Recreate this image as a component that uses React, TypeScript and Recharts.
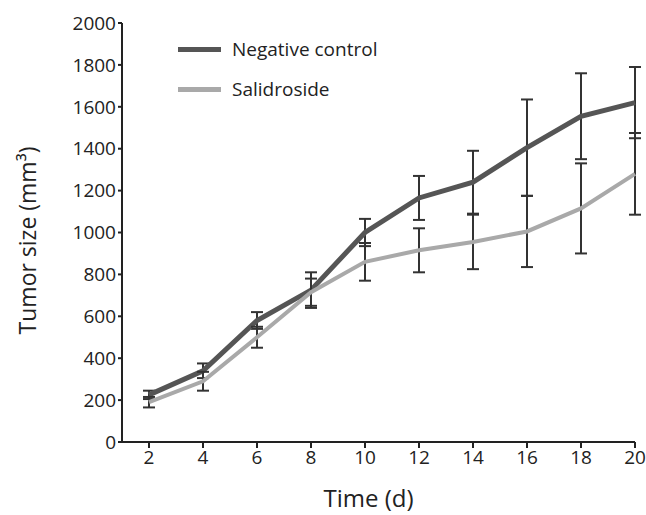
import React from "react";
import { LineChart, Line, XAxis, YAxis, ErrorBar, Legend, Label } from "recharts";

const days = [2, 4, 6, 8, 10, 12, 14, 16, 18, 20];
const negativeControl = [225, 340, 580, 725, 1000, 1165, 1240, 1405, 1555, 1620];
const negativeControlErr = [20, 35, 40, 85, 65, 105, 150, 230, 205, 170];
const salidroside = [190, 290, 500, 715, 860, 915, 955, 1005, 1115, 1280];
const salidrosideErr = [25, 45, 50, 65, 90, 105, 130, 170, 215, 195];
const xTicks = [2, 4, 6, 8, 10, 12, 14, 16, 18, 20];
const yTicks = [0, 200, 400, 600, 800, 1000, 1200, 1400, 1600, 1800, 2000];

const data = days.map((d, i) => ({
  day: d,
  nc: negativeControl[i],
  ncErr: negativeControlErr[i],
  sal: salidroside[i],
  salErr: salidrosideErr[i],
}));

const FONT = "'Open Sans', sans-serif";
const INK = "#222";
const NC_COLOR = "#555555";
const SAL_COLOR = "#a9a9a9";

function LegendBox({ payload }: { payload?: Array<{ value: string; color: string }> }) {
  if (!payload) return null;
  return (
    <div style={{ fontFamily: FONT, fontSize: 19, color: INK }}>
      {payload.map((p) => (
        <div key={p.value} style={{ display: "flex", alignItems: "center", height: 40 }}>
          <span style={{ display: "inline-block", width: 43, height: 5, background: p.color, marginRight: 11 }} />
          <span>{p.value}</span>
        </div>
      ))}
    </div>
  );
}

function YTitle({ viewBox }: any) {
  const cx = viewBox.x + 17;
  const cy = viewBox.y + viewBox.height / 2 + 8;
  return (
    <text
      x={cx}
      y={cy}
      transform={`rotate(-90 ${cx} ${cy})`}
      textAnchor="middle"
      dominantBaseline="central"
      fontFamily={FONT}
      fontSize={23}
      fill={INK}
    >
      Tumor size (mm³)
    </text>
  );
}

function XTitle({ viewBox }: any) {
  const cx = viewBox.x + viewBox.width / 2 - 10;
  const y = viewBox.y + viewBox.height + 25;
  return (
    <text x={cx} y={y} textAnchor="middle" fontFamily={FONT} fontSize={24} fill={INK}>
      Time (d)
    </text>
  );
}

export default function App() {
  return (
    <div style={{ position: "absolute", left: 0, top: 0, width: 646, height: 515, background: "#fff" }}>
      <LineChart width={646} height={515} data={data} margin={{ top: 23, right: 11, bottom: 33, left: 10 }}>
        <XAxis
          dataKey="day"
          type="number"
          domain={[1, 20]}
          ticks={xTicks}
          tickSize={6}
          tickMargin={3}
          height={40}
          stroke={INK}
          strokeWidth={2}
          tick={{ fill: INK, fontSize: 19, fontFamily: FONT }}
        >
          <Label content={<XTitle />} />
        </XAxis>
        <YAxis
          type="number"
          domain={[0, 2000]}
          ticks={yTicks}
          tickSize={4}
          tickMargin={2}
          width={112}
          stroke={INK}
          strokeWidth={2}
          tick={{ fill: INK, fontSize: 19, fontFamily: FONT }}
        >
          <Label content={<YTitle />} />
        </YAxis>
        <Legend
          layout="vertical"
          align="center"
          verticalAlign="middle"
          content={<LegendBox />}
          wrapperStyle={{ position: "absolute", top: 29, left: 178, width: 260 }}
        />
        <Line
          name="Negative control"
          dataKey="nc"
          type="linear"
          stroke={NC_COLOR}
          strokeWidth={5}
          dot={false}
          activeDot={false}
          isAnimationActive={false}
        >
          <ErrorBar dataKey="ncErr" width={6} stroke="#333" strokeWidth={2} direction="y" />
        </Line>
        <Line
          name="Salidroside"
          dataKey="sal"
          type="linear"
          stroke={SAL_COLOR}
          strokeWidth={4}
          dot={false}
          activeDot={false}
          isAnimationActive={false}
        >
          <ErrorBar dataKey="salErr" width={6} stroke="#333" strokeWidth={2} direction="y" />
        </Line>
      </LineChart>
    </div>
  );
}
